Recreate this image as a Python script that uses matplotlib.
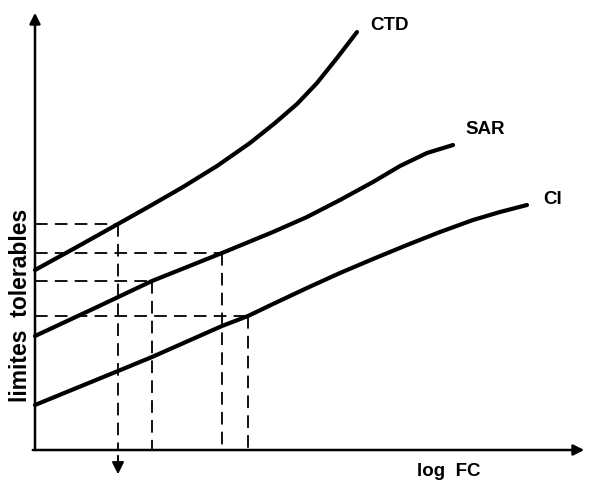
import matplotlib.pyplot as plt

# schematic curves (x: log FC, y: limites tolerables), arbitrary units
ctd_x = [0, 40, 83, 115, 148, 182, 215, 240, 262, 282, 302, 322]
ctd_y = [180, 202, 226, 244, 263, 284, 307, 327, 346, 367, 392, 418]

sar_x = [0, 60, 117, 187, 238, 272, 305, 338, 365, 392, 418]
sar_y = [114, 142, 169, 197, 218, 233, 250, 268, 284, 297, 305]

ci_x = [0, 83, 117, 187, 213, 238, 272, 305, 338, 372, 405, 438, 465, 492]
ci_y = [45, 79, 93, 124, 134, 146, 162, 177, 191, 205, 218, 230, 238, 245]

# dashed read-off lines (point on curve)
guide_x = [83, 117, 187, 213]
guide_y = [226, 169, 197, 134]

labels = ['CTD', 'SAR', 'CI']

fig = plt.figure(figsize=(5.89, 4.81), dpi=100)
ax = fig.add_axes([0, 0, 1, 1])
ax.set_xlim(-35, 554)
ax.set_ylim(-30, 451)
ax.axis('off')

font = dict(family='Liberation Sans', weight='bold', size=13.5)

# axes with arrows
ax.annotate('', xy=(0, 440), xytext=(0, -1),
            arrowprops=dict(arrowstyle='-|>', lw=1.8, color='black', mutation_scale=16))
ax.annotate('', xy=(552, 0), xytext=(-5, 0),
            arrowprops=dict(arrowstyle='-|>', lw=1.8, color='black', mutation_scale=16))

# curves
for xs, ys in [(ctd_x, ctd_y), (sar_x, sar_y), (ci_x, ci_y)]:
    ax.plot(xs, ys, color='black', lw=3, solid_capstyle='round', solid_joinstyle='round')

# guides
for gx, gy in zip(guide_x, guide_y):
    ax.plot([0, gx], [gy, gy], color='black', lw=1.3, dashes=(7, 4))
    ax.plot([gx, gx], [gy, 0], color='black', lw=1.3, dashes=(7, 4))

# arrow down below the axis
ax.annotate('', xy=(guide_x[0], -27), xytext=(guide_x[0], -3),
            arrowprops=dict(arrowstyle='-|>', lw=1.4, color='black',
                            mutation_scale=18))

ax.text(ctd_x[-1] + 13, ctd_y[-1] + 7, labels[0], ha='left', va='center', **font)
ax.text(sar_x[-1] + 12, sar_y[-1] + 16, labels[1], ha='left', va='center', **font)
ax.text(ci_x[-1] + 16, ci_y[-1] + 7, labels[2], ha='left', va='center', **font)

ax.text(382, -21, 'log  FC', ha='left', va='center', **font)
ax.text(-14, 146, 'limites  tolerables', ha='center', va='center', rotation=90,
        family='Liberation Sans', weight='bold', size=16.5)

fig.savefig('out.png', dpi=100)
